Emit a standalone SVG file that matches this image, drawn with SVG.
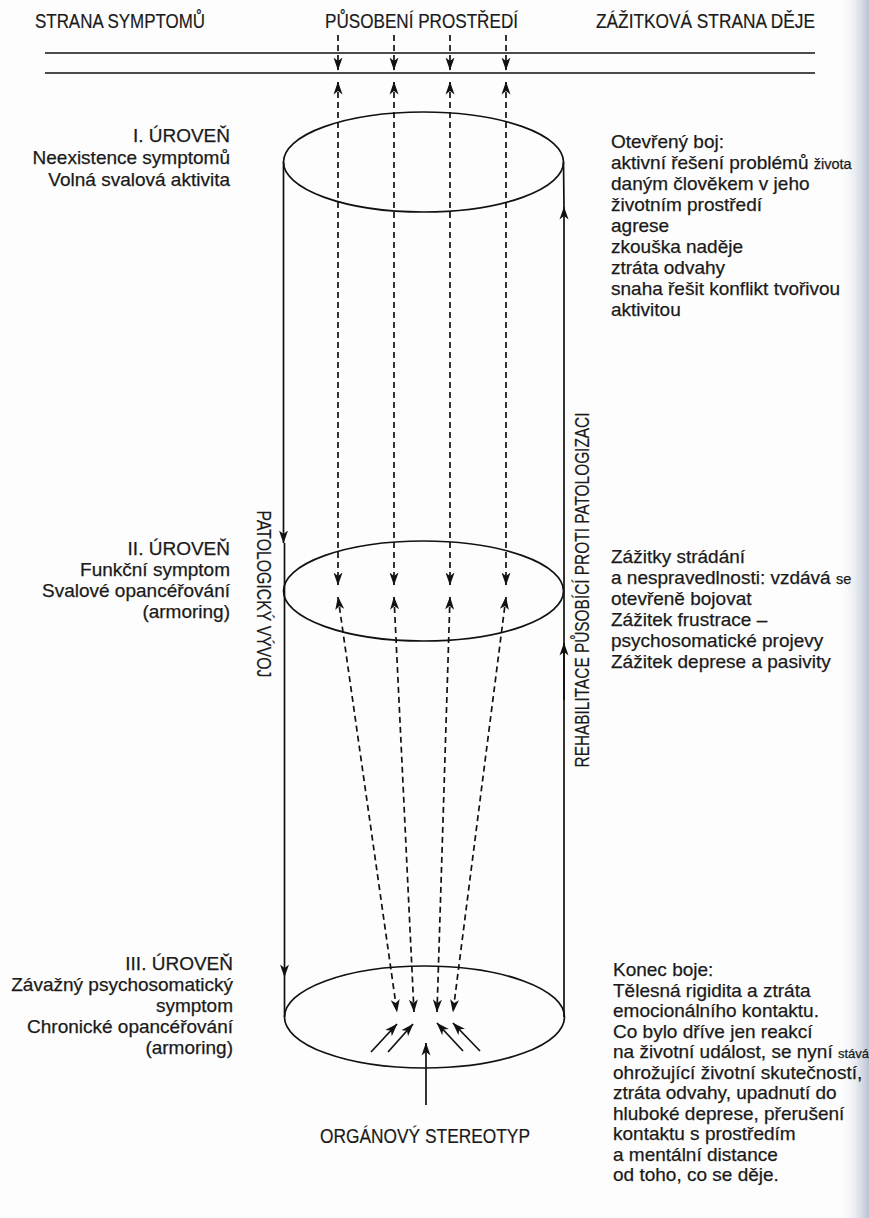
<svg xmlns="http://www.w3.org/2000/svg" width="869" height="1218" viewBox="0 0 869 1218">
<style>
.t{font-family:"Liberation Sans",Arial,sans-serif;font-size:19px;fill:#1a1a1a;stroke:#1a1a1a;stroke-width:0.25}
.h{font-family:"Liberation Sans",Arial,sans-serif;font-size:21px;fill:#1a1a1a;stroke:#1a1a1a;stroke-width:0.2}
.s{font-size:14.5px}
.s2{font-size:13px}
.r{text-anchor:end}
.m{text-anchor:middle}
.ln{fill:none;stroke:#111;stroke-width:1.7}
.d{fill:none;stroke:#111;stroke-width:1.7;stroke-dasharray:6 4}
.a{marker-end:url(#ah)}
.b{marker-start:url(#ah);marker-end:url(#ah)}
</style>
<defs>
<marker id="ah" markerUnits="userSpaceOnUse" markerWidth="13" markerHeight="10" viewBox="0 0 13 10" refX="12.5" refY="5" orient="auto-start-reverse">
<path d="M0,0.5 L13,5 L0,9.5 L3.5,5 z" fill="#111"/>
</marker>
<linearGradient id="edge" x1="0" y1="0" x2="1" y2="0">
<stop offset="0" stop-color="#ffffff" stop-opacity="0"/>
<stop offset="1" stop-color="#b9c2d2"/>
</linearGradient>
</defs>
<rect width="869" height="1218" fill="#fdfdfd"/>
<rect x="838" y="0" width="31" height="1218" fill="url(#edge)"/>

<g id="headers">
<text class="h" x="35" y="28" textLength="170" lengthAdjust="spacingAndGlyphs">STRANA SYMPTOMŮ</text>
<text class="h" x="325" y="28" textLength="193" lengthAdjust="spacingAndGlyphs">PŮSOBENÍ PROSTŘEDÍ</text>
<text class="h" x="596" y="28" textLength="219" lengthAdjust="spacingAndGlyphs">ZÁŽITKOVÁ STRANA DĚJE</text>
</g>

<g id="environment-band">
<line class="ln" x1="45" y1="53" x2="815" y2="53"/>
<line class="ln" x1="45" y1="73" x2="815" y2="73"/>
</g>

<g id="level1">
<ellipse class="ln" cx="423.5" cy="162" rx="140" ry="50"/>
<text class="t r" x="230" y="142">I. ÚROVEŇ</text>
<text class="t r" x="230" y="164">Neexistence symptomů</text>
<text class="t r" x="230" y="186">Volná svalová aktivita</text>
</g>

<g id="level1-experience">
<text class="t" x="611" y="148">Otevřený boj:</text>
<text class="t" x="611" y="169">aktivní řešení problémů <tspan class="s">života</tspan></text>
<text class="t" x="611" y="190">daným člověkem v jeho</text>
<text class="t" x="611" y="211">životním prostředí</text>
<text class="t" x="611" y="232">agrese</text>
<text class="t" x="611" y="253">zkouška naděje</text>
<text class="t" x="611" y="274">ztráta odvahy</text>
<text class="t" x="611" y="295">snaha řešit konflikt tvořivou</text>
<text class="t" x="611" y="316">aktivitou</text>
</g>

<g id="level2">
<ellipse class="ln" cx="423.5" cy="591" rx="140" ry="50"/>
<text class="t r" x="230" y="555">II. ÚROVEŇ</text>
<text class="t r" x="230" y="576">Funkční symptom</text>
<text class="t r" x="230" y="597">Svalové opancéřování</text>
<text class="t r" x="230" y="618">(armoring)</text>
</g>

<g id="level2-experience">
<text class="t" x="611" y="563">Zážitky strádání</text>
<text class="t" x="611" y="584">a nespravedlnosti: vzdává <tspan class="s">se</tspan></text>
<text class="t" x="611" y="605">otevřeně bojovat</text>
<text class="t" x="611" y="626">Zážitek frustrace –</text>
<text class="t" x="611" y="647">psychosomatické projevy</text>
<text class="t" x="611" y="668">Zážitek deprese a pasivity</text>
</g>

<g id="level3">
<ellipse class="ln" cx="424.5" cy="1017" rx="140" ry="51"/>
<text class="t r" x="233" y="970">III. ÚROVEŇ</text>
<text class="t r" x="233" y="991">Závažný psychosomatický</text>
<text class="t r" x="233" y="1012">symptom</text>
<text class="t r" x="233" y="1033">Chronické opancéřování</text>
<text class="t r" x="233" y="1054">(armoring)</text>
</g>

<g id="level3-experience">
<text class="t" x="613" y="976">Konec boje:</text>
<text class="t" x="613" y="996.5">Tělesná rigidita a ztráta</text>
<text class="t" x="613" y="1017">emocionálního kontaktu.</text>
<text class="t" x="613" y="1037.5">Co bylo dříve jen reakcí</text>
<text class="t" x="613" y="1058">na životní událost, se nyní <tspan class="s2">stává</tspan></text>
<text class="t" x="613" y="1078.5">ohrožující životní skutečností,</text>
<text class="t" x="613" y="1099">ztráta odvahy, upadnutí do</text>
<text class="t" x="613" y="1119.5">hluboké deprese, přerušení</text>
<text class="t" x="613" y="1140">kontaktu s prostředím</text>
<text class="t" x="613" y="1160.5">a mentální distance</text>
<text class="t" x="613" y="1181">od toho, co se děje.</text>
</g>

<g id="organ-stereotype">
<text class="h m" x="425" y="1143" textLength="210" lengthAdjust="spacingAndGlyphs">ORGÁNOVÝ STEREOTYP</text>
</g>

<g id="axis-labels">
<text class="h m" transform="translate(257,594) rotate(90)" x="0" y="0" textLength="167" lengthAdjust="spacingAndGlyphs">PATOLOGICKÝ VÝVOJ</text>
<text class="h m" transform="translate(589,590) rotate(-90)" x="0" y="0" textLength="355" lengthAdjust="spacingAndGlyphs">REHABILITACE PŮSOBÍCÍ PROTI PATOLOGIZACI</text>
</g>

<g id="connectors">
<path class="d a" d="M338,35 L338,70"/>
<path class="d a" d="M394,35 L394,70"/>
<path class="d a" d="M450,35 L450,70"/>
<path class="d a" d="M506,35 L506,70"/>
<path class="d b" d="M338,82 L338,585"/>
<path class="d b" d="M394,82 L394,585"/>
<path class="d b" d="M450,82 L450,585"/>
<path class="d b" d="M506,82 L506,585"/>
<path class="d b" d="M338,597 L397,1012"/>
<path class="d b" d="M394,597 L414,1012"/>
<path class="d b" d="M450,597 L437,1012"/>
<path class="d b" d="M506,597 L453,1012"/>
<path class="ln a" d="M283.5,162 L283.5,543"/>
<path class="ln a" d="M284.5,543 L284.5,977"/>
<path class="ln" d="M284.5,977 L284.5,1017"/>
<path class="ln" d="M564,1017 L564,643"/>
<path class="ln a" d="M564,643 L564,207"/>
<path class="ln" d="M564,207 L563.5,162"/>
<path class="ln a" d="M564,700 L564,643"/>
<path class="ln a" d="M371,1052 L397,1024"/>
<path class="ln a" d="M388,1052 L413,1024"/>
<path class="ln a" d="M463,1051 L437,1023"/>
<path class="ln a" d="M480,1051 L453,1023"/>
<path class="ln a" d="M426,1105 L426,1043"/>
</g>
</svg>
